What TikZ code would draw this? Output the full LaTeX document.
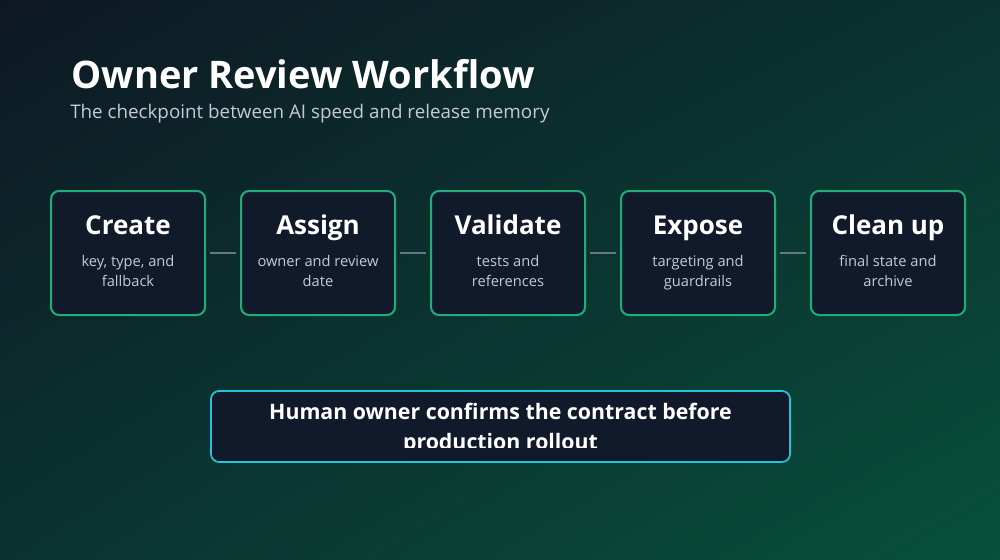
\documentclass[tikz,border=0pt]{standalone}
\usepackage{fontspec}
\setmainfont{Open Sans}
\usetikzlibrary{shadings}
\begin{document}
\begin{tikzpicture}[x=0.75pt,y=-0.75pt,
  stepbox/.style={draw=stepc,line width=1.5pt,fill=boxc,rounded corners=6pt,minimum width=154*0.75pt,minimum height=124*0.75pt,inner sep=0pt},
  ttl/.style={text=white,font=\fontsize{19.5}{22}\selectfont\bfseries,anchor=base,inner sep=0pt},
  sub/.style={text=subc,font=\fontsize{11}{15}\selectfont,anchor=base,inner sep=0pt},
  link/.style={draw=linkc,line width=2.2pt}]
\definecolor{stepc}{HTML}{1FAE7A}
\definecolor{boxc}{HTML}{111A2B}
\definecolor{subc}{HTML}{C3CBD6}
\definecolor{linkc}{HTML}{66797F}
\definecolor{bgA}{HTML}{0E1823}
\definecolor{bgB}{HTML}{07503A}
\definecolor{bgM}{HTML}{0B3230}
\definecolor{cyanc}{HTML}{22C3DC}
\useasboundingbox (0,0) rectangle (1000,560);
\shade[upper left=bgA,lower right=bgB,upper right=bgM,lower left=bgM] (0,0) rectangle (1000,560);
\node[anchor=base west,text=white,font=\fontsize{28.5}{32}\selectfont\bfseries,inner sep=0pt] (title) at (71,89) {Owner Review Workflow};
\node[anchor=base west,text=subc,font=\fontsize{14.1}{18}\selectfont,inner sep=0pt] (subt) at (70,118) {The checkpoint between AI speed and release memory};
\foreach \i/\t/\a/\b [count=\n] in {128/Create/{key, type, and}/fallback,318/Assign/{owner and review}/date,508/Validate/{tests and}/references,698/Expose/{targeting and}/guardrails,888/Clean up/{final state and}/archive}{
  \node[stepbox] (s\n) at (\i,253) {};
  \node[ttl] (t\n) at (\i,234) {\t};
  \node[sub] (d\n) at (\i,266) {\a};
  \node[sub] (e\n) at (\i,286) {\b};
}
\foreach \p/\q in {1/2,2/3,3/4,4/5}{\draw[link] ([xshift=3pt]s\p.east) -- ([xshift=-3pt]s\q.west);}
\node[draw=cyanc,line width=1.3pt,fill=boxc,rounded corners=6pt,minimum width=579*0.75pt,minimum height=71*0.75pt] (bot) at (500.5,426.5) {};
\begin{scope}
\clip (212,393) rectangle (789,447);
\node[text=white,font=\fontsize{16}{21}\selectfont\bfseries,anchor=base,inner sep=0pt] (b1) at (500.5,419) {Human owner confirms the contract before};
\node[text=white,font=\fontsize{16}{21}\selectfont\bfseries,anchor=base,inner sep=0pt] (b2) at (500.5,449) {production rollout};
\end{scope}
\end{tikzpicture}
\end{document}
